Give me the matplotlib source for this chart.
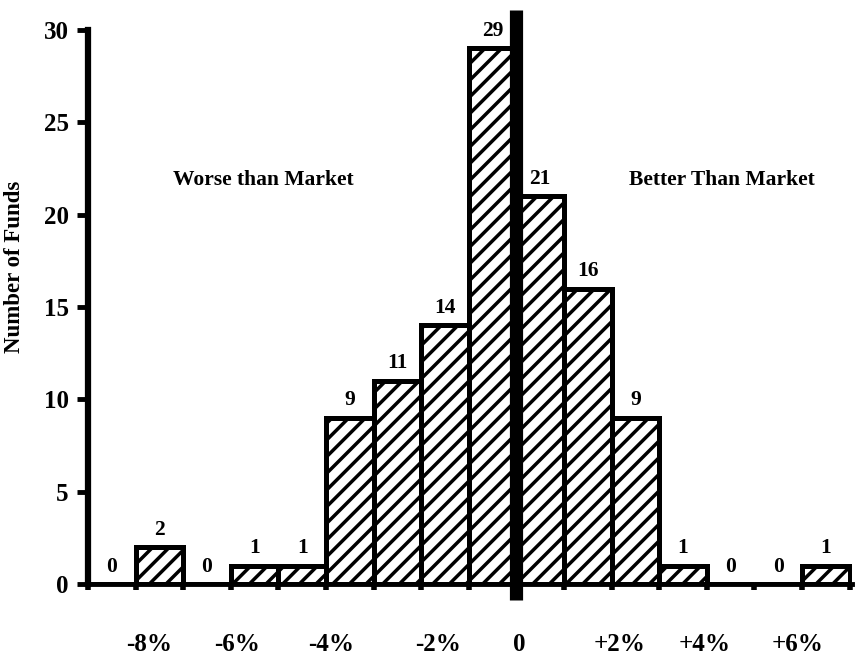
import numpy as np
import matplotlib.pyplot as plt

# histogram of fund performance vs market, 1% bins
bin_left = [-9, -8, -7, -6, -5, -4, -3, -2, -1, 0, 1, 2, 3, 4, 5, 6]
counts = [0, 2, 0, 1, 1, 9, 11, 14, 29, 21, 16, 9, 1, 0, 0, 1]

xlabels = ['-8%', '-6%', '-4%', '-2%', '0', '+2%', '+4%', '+6%']
xlabel_pos = [-7.72, -5.86, -3.9, -1.65, 0.05, 2.17, 3.95, 5.9]

yticks = [0, 5, 10, 15, 20, 25, 30]

plt.rcParams['font.family'] = ['Liberation Serif', 'DejaVu Serif']
plt.rcParams['font.weight'] = 'bold'
plt.rcParams['hatch.linewidth'] = 2.5

fig = plt.figure(figsize=(8.56, 6.58), dpi=100)
ax = fig.add_axes([0.1028, 0.1125, 0.8925, 0.8419])

ax.bar(bin_left, counts, width=1, align='edge', color='white',
       edgecolor='black', linewidth=3.6, hatch='//', zorder=2)

for x, c in zip(bin_left, counts):
    ax.text(x + 0.5, c + 0.4, str(c), ha='center', va='bottom',
            fontsize=15.5, fontweight='bold')

# thick divider at zero
ax.plot([0, 0], [-0.87, 31.1], color='black', linewidth=9.5, clip_on=False,
        solid_capstyle='butt', zorder=4)

ax.set_xlim(-9, 7.05)
ax.set_ylim(0, 30)

ax.set_xticks(np.arange(-9, 8, 1))
ax.set_xticklabels([])
ax.tick_params(axis='x', direction='out', length=4, width=4)
for lab, p in zip(xlabels, xlabel_pos):
    ax.text(p, -3.3, lab, ha='center', va='center', fontsize=18,
            fontweight='bold')

ax.set_yticks(yticks)
ax.set_yticklabels([str(v) for v in yticks], fontsize=18, fontweight='bold')
ax.tick_params(axis='y', direction='out', length=8, width=3.5, pad=6)

ax.set_ylabel('Number of Funds', fontsize=16.5, fontweight='bold')
ax.yaxis.set_label_coords(-0.082, 0.573)

ax.text(-5.31, 21.9, 'Worse than Market', ha='center', va='center',
        fontsize=15.5, fontweight='bold')
ax.text(4.31, 21.9, 'Better Than Market', ha='center', va='center',
        fontsize=15.5, fontweight='bold')

ax.spines['top'].set_visible(False)
ax.spines['right'].set_visible(False)
ax.spines['left'].set_linewidth(4.5)
ax.spines['bottom'].set_linewidth(3.5)
ax.spines['left'].set_zorder(5)
ax.spines['bottom'].set_zorder(5)

fig.savefig('out.png', dpi=100)
